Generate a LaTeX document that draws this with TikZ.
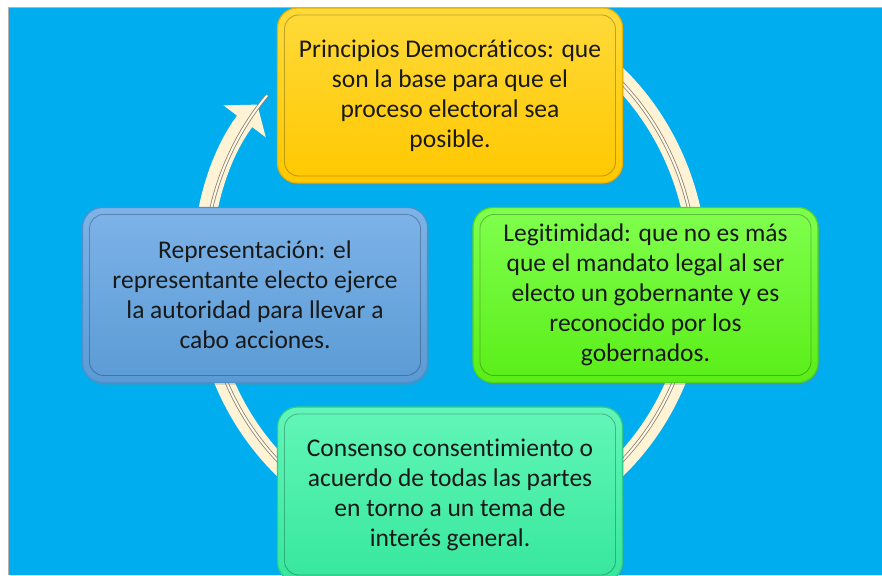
\documentclass[tikz,border=0pt]{standalone}
\usepackage{fontspec}
\setmainfont{Carlito}[Ligatures=CommonOff]
\usetikzlibrary{positioning,arrows.meta,shadows}

\definecolor{fondo}{HTML}{00AEEF}
\definecolor{crema}{HTML}{FFF3D6}
\definecolor{surco}{HTML}{8A7F6E}
\definecolor{amarilloA}{HTML}{FFDA3A}
\definecolor{amarilloB}{HTML}{FFC800}
\definecolor{amarilloC}{HTML}{E8B400}
\definecolor{azulA}{HTML}{7DB3E8}
\definecolor{azulB}{HTML}{5B9BD5}
\definecolor{azulC}{HTML}{4F8FCC}
\definecolor{verdeA}{HTML}{80FF4E}
\definecolor{verdeB}{HTML}{5AEE18}
\definecolor{verdeC}{HTML}{52D418}
\definecolor{mentaA}{HTML}{62F6B8}
\definecolor{mentaB}{HTML}{36E79C}
\definecolor{mentaC}{HTML}{2FCB88}

\begin{document}
\begin{tikzpicture}[x=1pt, y=1pt, node distance=195pt,
  box/.style={rectangle, rounded corners=20pt, draw, line width=1.2pt, minimum width=345pt, minimum height=175pt, align=center, text=black!90, font=\fontsize{25.5}{30}\selectfont, drop shadow={shadow xshift=1.5pt, shadow yshift=-2.5pt, opacity=0.25},
    path picture={\draw[black, opacity=0.25, line width=0.9pt, rounded corners=14pt] ([xshift=7pt,yshift=-7pt]path picture bounding box.north west) rectangle ([xshift=-7pt,yshift=7pt]path picture bounding box.south east);}},
  ring/.style={line width=19pt, draw=crema, fill=none},
  groove/.style={draw=surco, line width=0.8pt, double=crema!50!white, double distance=2pt}]

  \useasboundingbox (0,0) rectangle (882,575);
  \fill[white] (0,0) rectangle (882,575);
  \fill[fondo] (9,0) rectangle (882,567);
  \draw[black!30, line width=1pt] (8.5,0) -- (8.5,567.5) -- (882,567.5);

  \node[coordinate] (centro) at (450,280) {};
  \node[coordinate, above of=centro, node distance=23pt] (anillo) {};

  % cycle ring behind the boxes
  \draw[ring, -{Triangle[width=52pt,length=21pt]}] (anillo) ++(70:248 and 266) arc[start angle=70, end angle=-219, x radius=248, y radius=266];
  \draw[groove] (anillo) ++(70:246 and 264) arc[start angle=70, end angle=-222, x radius=246, y radius=264];

  \node[box, top color=amarilloA, bottom color=amarilloB, draw=amarilloC, above of=centro, node distance=199.5pt] (principios) {Principios Democráticos: que\\son la base para que el\\proceso electoral sea\\posible.};
  \node[box, top color=verdeA, bottom color=verdeB, draw=verdeC, right of=centro, node distance=195.5pt] (legitimidad) {Legitimidad: que no es más\\que el mandato legal al ser\\electo un gobernante y es\\reconocido por los\\gobernados.};
  \node[box, top color=mentaA, bottom color=mentaB, draw=mentaC, below of=centro, node distance=199.5pt] (consenso) {Consenso consentimiento o\\acuerdo de todas las partes\\en torno a un tema de\\interés general.};
  \node[box, top color=azulA, bottom color=azulB, draw=azulC, left of=centro] (representacion) {Representación: el\\representante electo ejerce\\la autoridad para llevar a\\cabo acciones.};
\end{tikzpicture}
\end{document}
